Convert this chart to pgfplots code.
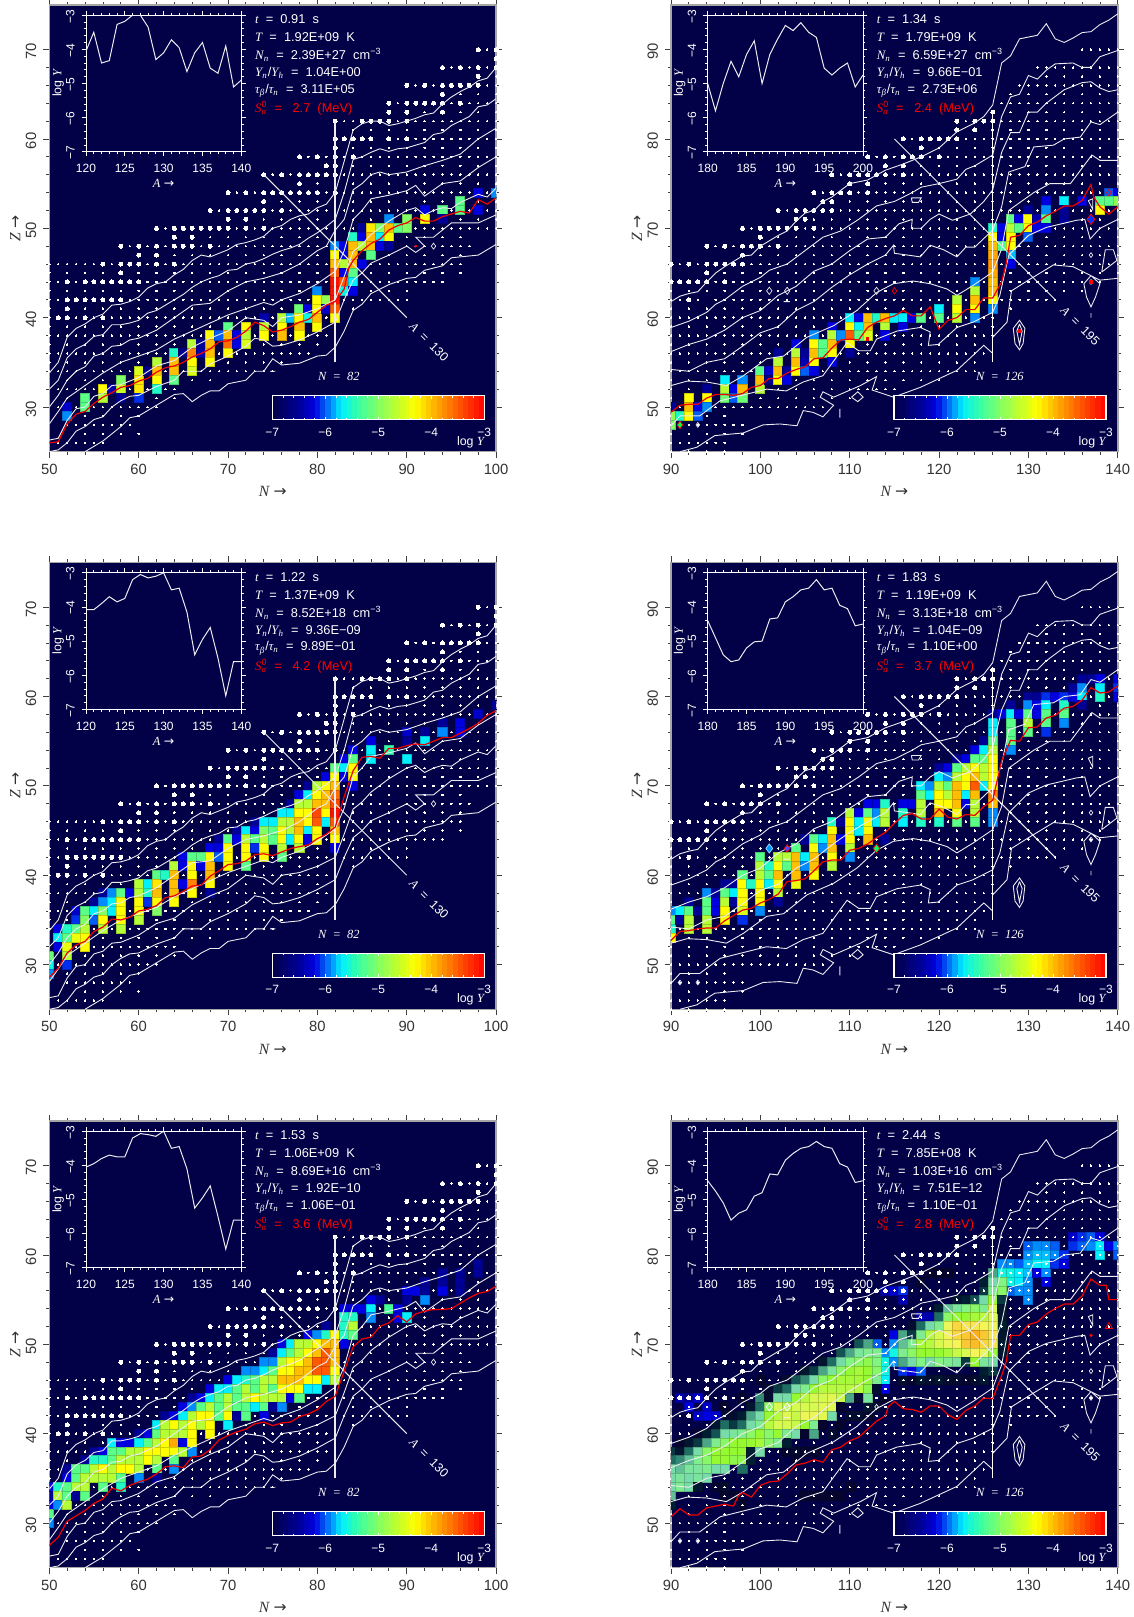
\documentclass[border=0pt]{standalone}
\usepackage{fontspec}
\usepackage{pgfplots}
\usepackage{pgfplotstable}
\pgfplotsset{compat=1.18}
\setmainfont{Liberation Sans}
\newfontfamily\serifrm{Liberation Serif}
\newfontfamily\symf{DejaVu Sans}
\newcommand\vv[1]{{\serifrm\itshape #1}}
\newcommand\arr{{\symf →}}
\definecolor{navy}{RGB}{2,0,70}
\definecolor{lin}{RGB}{235,235,240}
\tikzset{
ptx/.style={anchor=west,text=white,font=\fontsize{6.4}{7}\selectfont,inner sep=0pt},
lab/.style={text=white,font=\fontsize{6.2}{7}\selectfont,inner sep=0pt},
}
\pgfplotsset{
colormap={nuc}{rgb255(0cm)=(2,0,70) rgb255(5cm)=(0,0,150) rgb255(8cm)=(0,0,225) rgb255(11cm)=(0,140,255) rgb255(13cm)=(0,240,255) rgb255(16cm)=(50,255,170) rgb255(20cm)=(130,255,100) rgb255(24cm)=(200,255,40) rgb255(27cm)=(255,255,0) rgb255(30cm)=(255,190,0) rgb255(35cm)=(255,90,0) rgb255(40cm)=(255,0,0)},
colormap={nucs}{rgb255(0cm)=(2,0,70) rgb255(4cm)=(6,5,48) rgb255(7cm)=(0,30,50) rgb255(10cm)=(30,110,100) rgb255(14cm)=(120,220,170) rgb255(17cm)=(130,245,130) rgb255(20cm)=(150,250,50) rgb255(24cm)=(215,250,80) rgb255(27cm)=(245,245,90) rgb255(30cm)=(250,200,50) rgb255(33cm)=(250,165,20) rgb255(40cm)=(250,120,0)},
colormap name=nuc,
axbase/.style={scale only axis,width=223.4pt,height=223.4pt,anchor=south west,point meta min=-7,point meta max=-3,unbounded coords=jump},
main/.style={axbase,axis background/.style={fill=navy},
 axis line style={draw=gray!70,line width=.7pt},tick align=outside,minor tick num=4,major tick length=3pt,minor tick length=1.5pt,
 tick style={black!75,line width=.4pt},
 /pgf/number format/assume math mode=true,/pgf/number format/1000 sep={},
 tick label style={font=\fontsize{7.4}{8}\selectfont,text=black!80},
 yticklabel style={rotate=90,anchor=south,xshift=-1pt},xticklabel style={yshift=.5pt},
 xlabel={\vv{N} \arr},ylabel={\vv{Z} \arr},
 xlabel style={at={(axis description cs:.5,-.0895)},anchor=center,font=\fontsize{7.8}{8}\selectfont,text=black!80},
 ylabel style={at={(axis description cs:-.076,.5)},anchor=center,font=\fontsize{7.8}{8}\selectfont,text=black!80}},
mainL/.style={main,xmin=50,xmax=100,ymin=25,ymax=75,xtick={50,60,...,100},ytick={30,40,...,70}},
mainR/.style={main,xmin=90,xmax=140,ymin=45,ymax=95,xtick={90,100,...,140},ytick={50,60,...,90}},
ovL/.style={axbase,hide axis,xmin=50,xmax=100,ymin=25,ymax=75},
ovR/.style={axbase,hide axis,xmin=90,xmax=140,ymin=45,ymax=95},
cont/.style={color=lin,line width=.45pt,no markers},
red1/.style={color=red!95!black,line width=.6pt,no markers},
}
\pgfplotstableread{
50 33.8
51 35
52 37.8
53 38.8
54 39.3
55 40
56 40.4
57 41.4
58 41.5
59 41.8
60 42.3
61 43.3
62 43.8
63 44
64 44.8
65 45.4
66 46.4
67 47
68 46.8
69 47.2
70 47.6
71 48.2
72 48.4
73 48.7
74 49.1
75 50
76 50.3
77 51
78 51.4
79 51.6
80 52.3
81 52.7
82 54
83 57.5
84 61
85 61.7
86 62
87 62
88 61.5
89 61.7
90 62
91 62.3
92 62.7
93 62.9
94 63.9
95 64.7
96 65.3
97 65.8
98 66.5
99 66.8
100 68
nan nan
50 32
51 33
52 35.5
53 36.5
54 37
55 37.9
56 38.1
57 39.2
58 39.2
59 39.4
60 39.7
61 40.5
62 40.8
64 42
65 42.6
66 43.4
67 44
68 44.4
69 44.7
70 45.3
71 45.4
72 46
73 46.2
74 46.6
75 47.1
76 47.5
77 47.8
78 48.2
79 48.9
80 49.5
81 50.2
82 51
83 54
84 57.7
85 58
86 58.5
87 58.9
88 58.6
89 58.9
90 59
91 59.3
92 59.6
93 60.5
94 60.7
95 61.5
96 62
97 62.5
98 63.6
99 63.8
100 64.5
nan nan
50 30
51 31.3
52 33
53 34
54 34.5
55 35.7
56 36
57 36.8
58 36.9
59 37.5
60 37.7
62 38.6
64 40
66 41.4
68 41.6
70 43
72 44
74 44.4
76 45
78 46
80 47.5
81 48
82 49.8
83 51
84 54.3
85 55
86 56
87 56.3
88 56
90 56.3
92 57
94 57.6
96 58.3
98 60
100 61.2
nan nan
50 28.1
51 29.5
52 31
54 32.4
56 33.8
58 35
60 35.7
62 36.4
64 37.6
66 38.5
68 39.4
70 40.3
72 41
74 41.7
75 41.4
76 42
78 42.7
80 43.8
82 45.2
83 47.5
84 51
85 52
86 53.3
88 53.7
90 54.2
91 54.8
92 53.6
94 55
96 55.3
98 56.8
100 58
nan nan
50 26.3
51 26.5
52 28.5
53 29.8
54 30
55 31.2
56 31.5
57 32.4
58 32.5
60 33.3
62 34.6
64 35.2
66 36.7
68 37.7
70 38.5
72 40
74 39.7
75 39
76 40
78 40.3
80 41
82 42
83 44.6
84 47.4
85 48.2
86 49.3
88 50.8
90 52
91 52.3
92 51.5
93 52
94 52.3
95 52.2
96 52.9
98 53.8
99 53.5
100 54.5
nan nan
50 25
51 25.2
52 26
53 27.3
54 27.8
55 28.6
56 28.9
57 30
58 30.7
59 31.2
60 31.3
62 32.3
64 33
65 34
67 34
68 34.8
70 35.7
72 36.8
73 37.7
74 37.5
75 36.8
76 36.9
78 37.5
80 38.4
82 39.5
83 42
84 44.2
85 45
86 46.1
88 47
90 48
91 47.3
92 48
91 49
93 49
95 50.6
98 50.6
100 51.5
nan nan
54 25
56 26.2
58 27.8
59 28.8
60 29
62 30.2
64 31.4
65 31.5
66 30.6
67 31.3
68 31.8
69 31.8
70 32.6
72 33
73 34
74 34
75 35.4
76 34.7
78 34.9
80 35.7
81 35.8
82 36.7
83 38.5
84 40.8
85 41.5
86 42.7
88 43.7
90 44.4
91 44.5
92 45.3
94 45.8
95 46.7
98 47
100 48.2
nan nan
74.7 34
75.3 34
}\contL
\pgfplotstableread{
90 61.8
91 62.4
92 62.7
93 62.9
94 64
95 65
96 65.7
97 66.3
98 66.9
99 67
100 68
102 69.2
103 69.7
104 70.8
105 71.7
106 72
107 73
108 73.5
110 75
112 75.4
114 76.5
116 77.2
118 78
120 79
122 80.8
124 81.8
125 82.5
126 83.8
127 88.5
128 89.3
129 91.2
131 91.6
132 92.9
133 91.2
134 90.8
135 91.3
136 91.9
137 92
138 92.8
139 93.3
140 94
nan nan
90 58.9
92 59.6
94 60.6
95 61.5
96 62
98 63.5
100 64.5
101 65.3
103 66
105 67.5
107 69
109 69.7
111 71
113 72.5
115 73
117 74
118 74.6
120 75
122 75.5
123 76.6
124 77
126 78.2
127 82.5
128 84.7
129 85
130 87.1
131 86.7
132 87.7
133 88.4
135 88.5
136 88
137 88
138 89.2
140 89.9
nan nan
90 56.2
92 57
94 57.6
96 58.6
98 60
100 60.8
102 62.5
104 63.5
106 65.2
108 66
110 67.5
112 68.8
114 69
115.5 70.5
117 71
116.9 70
118 70
119 71
120 71.6
121.5 70.9
123.5 71.6
125 73
126 74.3
127 78.5
128 80.7
129 80.7
130 83
131 83
132 84
134 85.5
136 86.3
137 86.4
138 85.7
139 85.3
140 85.5
nan nan
90 54.2
92 54
94 55
96 55.4
98 56.8
100 58.3
102 59
104 60.8
106 61.8
108 63.4
110 64.8
112 66
114 67
114.9 68.1
115 67.2
116.5 67
117.9 66.8
119 68.1
120.5 67.6
122 66.8
123 67.9
124 67.9
126 69.8
127 72.4
127.8 76.3
129.6 76.9
130.6 79.1
132.8 79.3
134 80
135.8 80.2
137 81.9
138 81.6
140 83
nan nan
90 52.4
91.8 52.9
94 52.8
96.2 52.4
98.1 53.5
100.7 55.4
102.6 55.7
105.2 57.8
108.2 59.1
110.8 60.8
113 62.8
114.9 63.8
117.1 64.1
119 63.8
120.9 63.2
122 62.5
123.8 63.6
126 65.1
127 67.7
127.8 72
130.6 74
132.4 75
134.7 75
137.1 78.2
138 77.6
140 77.6
nan nan
90 47.9
91 49
93.2 49
95.5 50.7
100.7 52
102.9 51.8
104.8 52.8
107 53.5
109.7 57.2
111 56.3
112.3 56.3
113 57.6
115.3 58.5
117.9 58.9
119 58.4
118.8 56.9
119.9 57
122 58.9
123.8 59.5
126 60.6
126.8 62.5
127.8 67
130 69.2
132 70.1
135.4 70.9
136.3 71
136.9 68.8
138 70
140 71
nan nan
91 45
92.9 45.5
94.9 46.8
98.1 47.1
100.3 48
102.2 48.1
104.1 47.9
104.8 49.6
105.9 49.4
107 48.9
108.2 50.2
106.7 51.1
107 51.7
108.2 51.1
111.2 52.4
113 53.4
112.5 51.9
114.9 51.1
117.9 52.2
122 54.1
125 56.9
126 56
nan nan
126 57.8
127.6 59.5
128.1 63
130 64.2
132.8 65.9
135 65.7
138 64.2
140 64.4
nan nan
128.3 58.8
129 59.7
129.6 58.8
129.4 57.1
129 56.4
128.5 57.1
128.3 58.8
nan nan
129 59.3
129.3 58.5
129 57
128.7 58.5
129 59.3
nan nan
136.2 63.8
137 64.7
138 63.8
137.5 62.3
137 61.2
136.5 62.3
136.2 63.8
nan nan
137 60
137 60.5
nan nan
136.7 73.1
137.2 73.3
137.2 72.1
136.7 73.1
nan nan
116.9 73.4
118 73.4
117.7 72.9
117 72.9
116.9 73.4
nan nan
110.2 51.1
110.9 51.7
111.5 51.1
110.9 50.6
110.2 51.1
nan nan
108.9 49.8
108.9 48.8
nan nan
138.2 65.1
138.6 67.6
139.5 67.6
139.9 66.4
138.2 65.1
nan nan
102.6 61.8
103.3 61.8
}\contR
\pgfplotstableread{
98 70
100 70
100 69
94 68
96 68
98 68
100 68
98 67
90 66
92 66
94 66
95 66
97 66
96 66
98 66
94 65
88 64
90 64
91 64
92 64
93 64
94 64
96 64
88 63
90 63
94 63
82 62
85 62
86 62
87 62
88 62
90 62
82 60
83 60
84 60
85 60
86 60
88 60
90 60
82 59
78 58
80 58
82 58
84 58
81 57
82 57
74 56
76 56
78 56
79 56
80 56
81 56
82 56
78 55
70 54
72 54
74 54
75 54
76 54
77 54
78 54
79 54
80 54
82 54
74 53
68 52
70 52
71 52
72 52
73 52
74 52
76 52
70 51
72 51
62 50
64 50
65 50
66 50
67 50
68 50
69 50
70 50
72 50
74 50
64 49
66 49
58 48
60 48
62 48
64 48
65 48
66 48
68 48
60 47
62 47
56 46
58 46
59 46
60 46
62 46
64 46
58 45
52 44
54 44
55 44
56 44
57 44
58 44
59 44
60 44
52 42
53 42
54 42
55 42
56 42
57 42
58 42
52 41
51 40
52 40
54 40
56 40
}\bigL
\pgfplotstableread{
51 26
52 26
53 26
54 26
55 26
56 26
54 27
56 27
58 27
60 27
52 28
53 28
54 28
55 28
56 28
57 28
58 28
59 28
52 29
54 29
56 29
58 29
60 29
51 30
52 30
53 30
54 30
55 30
56 30
57 30
58 30
59 30
60 30
61 30
62 30
52 31
54 31
56 31
58 31
60 31
62 31
64 31
51 32
52 32
53 32
54 32
55 32
56 32
57 32
58 32
59 32
60 32
61 32
62 32
63 32
64 32
52 33
54 33
56 33
58 33
60 33
62 33
64 33
66 33
68 33
50 34
51 34
52 34
53 34
54 34
55 34
56 34
57 34
58 34
59 34
60 34
61 34
62 34
63 34
64 34
65 34
66 34
67 34
68 34
69 34
70 34
71 34
72 34
73 34
74 34
75 34
50 35
52 35
54 35
56 35
58 35
60 35
62 35
64 35
66 35
68 35
70 35
72 35
74 35
76 35
50 36
51 36
52 36
53 36
54 36
55 36
56 36
57 36
58 36
59 36
60 36
61 36
62 36
63 36
64 36
65 36
66 36
67 36
68 36
69 36
70 36
71 36
72 36
73 36
74 36
75 36
76 36
77 36
78 36
79 36
50 37
52 37
54 37
56 37
58 37
60 37
62 37
64 37
66 37
68 37
70 37
72 37
74 37
76 37
78 37
80 37
50 38
51 38
52 38
53 38
54 38
55 38
56 38
57 38
58 38
59 38
60 38
61 38
62 38
63 38
64 38
65 38
66 38
67 38
68 38
69 38
70 38
71 38
72 38
73 38
74 38
75 38
76 38
77 38
78 38
79 38
80 38
81 38
50 39
52 39
54 39
56 39
58 39
60 39
62 39
64 39
66 39
68 39
70 39
72 39
74 39
76 39
78 39
80 39
82 39
50 40
53 40
55 40
57 40
58 40
59 40
60 40
61 40
62 40
63 40
64 40
65 40
66 40
67 40
68 40
69 40
70 40
71 40
72 40
73 40
74 40
75 40
76 40
77 40
78 40
79 40
80 40
81 40
82 40
50 41
54 41
56 41
58 41
60 41
62 41
64 41
66 41
68 41
70 41
72 41
74 41
76 41
78 41
80 41
82 41
84 41
50 42
51 42
59 42
60 42
61 42
62 42
63 42
64 42
65 42
66 42
67 42
68 42
69 42
70 42
71 42
72 42
73 42
74 42
75 42
76 42
77 42
78 42
79 42
80 42
81 42
82 42
83 42
84 42
85 42
86 42
87 42
88 42
89 42
90 42
50 43
52 43
54 43
56 43
58 43
60 43
62 43
64 43
66 43
68 43
70 43
72 43
74 43
76 43
78 43
80 43
82 43
84 43
86 43
88 43
90 43
50 44
51 44
53 44
61 44
62 44
63 44
64 44
65 44
66 44
67 44
68 44
69 44
70 44
71 44
72 44
73 44
74 44
75 44
76 44
77 44
78 44
79 44
80 44
81 44
82 44
83 44
84 44
85 44
86 44
87 44
88 44
89 44
90 44
91 44
92 44
93 44
94 44
50 45
52 45
54 45
56 45
60 45
62 45
64 45
66 45
68 45
70 45
72 45
74 45
76 45
78 45
80 45
82 45
84 45
86 45
88 45
90 45
92 45
94 45
96 45
50 46
51 46
52 46
53 46
54 46
55 46
57 46
61 46
63 46
65 46
66 46
67 46
68 46
69 46
70 46
71 46
72 46
73 46
74 46
75 46
76 46
77 46
78 46
79 46
80 46
81 46
82 46
83 46
84 46
85 46
86 46
87 46
88 46
89 46
90 46
91 46
92 46
93 46
94 46
95 46
96 46
64 47
66 47
68 47
70 47
72 47
74 47
76 47
78 47
80 47
82 47
84 47
86 47
88 47
90 47
92 47
94 47
96 47
59 48
61 48
63 48
67 48
69 48
70 48
71 48
72 48
73 48
74 48
75 48
76 48
77 48
78 48
79 48
80 48
81 48
82 48
83 48
84 48
85 48
86 48
87 48
88 48
90 48
91 48
92 48
94 48
95 48
96 48
97 48
68 49
70 49
72 49
74 49
76 49
78 49
80 49
82 49
84 49
86 49
88 49
90 49
92 49
94 49
96 49
63 50
71 50
73 50
75 50
76 50
77 50
78 50
79 50
80 50
81 50
82 50
83 50
84 50
85 50
86 50
87 50
88 50
89 50
90 50
91 50
92 50
93 50
94 50
95 50
96 50
97 50
98 50
99 50
100 50
74 51
76 51
78 51
80 51
82 51
84 51
86 51
88 51
90 51
92 51
94 51
96 51
98 51
100 51
69 52
75 52
77 52
78 52
79 52
80 52
81 52
82 52
83 52
84 52
85 52
86 52
87 52
88 52
89 52
90 52
91 52
92 52
93 52
94 52
95 52
96 52
97 52
98 52
99 52
100 52
76 53
78 53
80 53
82 53
84 53
86 53
88 53
90 53
92 53
94 53
96 53
98 53
100 53
71 54
73 54
81 54
83 54
84 54
85 54
86 54
87 54
88 54
89 54
90 54
91 54
92 54
93 54
94 54
95 54
96 54
97 54
98 54
99 54
100 54
80 55
82 55
84 55
86 55
88 55
90 55
92 55
94 55
96 55
98 55
100 55
75 56
77 56
83 56
84 56
85 56
86 56
87 56
88 56
89 56
90 56
91 56
92 56
93 56
94 56
95 56
96 56
97 56
98 56
99 56
100 56
84 57
86 57
88 57
90 57
92 57
94 57
96 57
98 57
100 57
79 58
81 58
83 58
85 58
86 58
87 58
88 58
89 58
90 58
91 58
92 58
93 58
94 58
95 58
96 58
97 58
98 58
99 58
100 58
84 59
86 59
88 59
90 59
92 59
94 59
96 59
98 59
100 59
89 60
91 60
92 60
93 60
94 60
95 60
96 60
97 60
98 60
99 60
100 60
84 61
86 61
88 61
90 61
92 61
94 61
96 61
98 61
100 61
83 62
84 62
89 62
91 62
92 62
93 62
94 62
95 62
96 62
97 62
98 62
99 62
100 62
92 63
96 63
98 63
100 63
89 64
95 64
97 64
98 64
99 64
100 64
96 65
98 65
100 65
91 66
93 66
99 66
100 66
100 67
95 68
97 68
99 68
99 70
}\smallL
\pgfplotstableread{
126 83
122 82
124 82
125 82
126 82
122 81
124 81
116 80
118 80
119 80
120 80
121 80
122 80
118 79
112 78
114 78
116 78
117 78
118 78
120 78
114 77
116 77
108 76
110 76
111 76
112 76
113 76
114 76
116 76
110 75
112 75
106 74
108 74
109 74
110 74
112 74
107 73
108 73
102 72
104 72
105 72
106 72
107 72
108 72
104 71
105 71
98 70
100 70
101 70
102 70
103 70
104 70
106 70
100 69
94 68
96 68
98 68
99 68
100 68
102 68
98 67
90 66
92 66
94 66
95 66
96 66
97 66
98 66
94 65
90 64
91 64
92 64
93 64
94 64
96 64
92 62
}\bigR
\pgfplotstableread{
90 45
92 45
94 45
96 45
90 46
91 46
92 46
93 46
94 46
95 46
96 46
90 47
92 47
94 47
96 47
98 47
90 48
91 48
92 48
93 48
94 48
95 48
96 48
97 48
98 48
90 49
92 49
94 49
96 49
90 50
91 50
92 50
93 50
94 50
95 50
96 50
97 50
98 50
99 50
100 50
101 50
102 50
103 50
104 50
105 50
106 50
107 50
90 51
92 51
94 51
96 51
98 51
100 51
102 51
104 51
106 51
108 51
110 51
90 52
92 52
94 52
96 52
98 52
100 52
102 52
104 52
106 52
108 52
110 52
111 52
112 52
113 52
114 52
115 52
90 53
92 53
94 53
96 53
98 53
100 53
102 53
104 53
106 53
108 53
110 53
112 53
114 53
116 53
118 53
120 53
90 54
91 54
92 54
93 54
94 54
95 54
96 54
97 54
98 54
99 54
100 54
101 54
102 54
103 54
104 54
105 54
106 54
107 54
108 54
109 54
110 54
111 54
112 54
113 54
114 54
115 54
116 54
117 54
118 54
119 54
120 54
121 54
122 54
123 54
124 54
90 55
92 55
94 55
96 55
98 55
100 55
102 55
104 55
106 55
108 55
110 55
112 55
114 55
116 55
118 55
120 55
122 55
124 55
90 56
91 56
92 56
93 56
94 56
95 56
96 56
97 56
98 56
99 56
100 56
101 56
102 56
103 56
104 56
105 56
106 56
107 56
108 56
109 56
110 56
111 56
112 56
113 56
114 56
115 56
116 56
117 56
118 56
119 56
120 56
121 56
122 56
123 56
124 56
125 56
90 57
92 57
94 57
96 57
98 57
100 57
102 57
104 57
106 57
108 57
110 57
112 57
114 57
116 57
118 57
120 57
122 57
124 57
90 58
91 58
92 58
93 58
94 58
95 58
96 58
97 58
98 58
99 58
100 58
101 58
102 58
103 58
104 58
105 58
106 58
107 58
108 58
109 58
110 58
111 58
112 58
113 58
114 58
115 58
116 58
117 58
118 58
119 58
120 58
121 58
122 58
123 58
124 58
125 58
126 58
90 59
92 59
94 59
96 59
98 59
100 59
102 59
104 59
106 59
108 59
110 59
112 59
114 59
116 59
118 59
120 59
122 59
124 59
126 59
90 60
91 60
92 60
93 60
94 60
95 60
96 60
97 60
98 60
99 60
100 60
101 60
102 60
103 60
104 60
105 60
106 60
107 60
108 60
109 60
110 60
111 60
112 60
113 60
114 60
115 60
116 60
117 60
118 60
119 60
120 60
121 60
122 60
123 60
124 60
125 60
126 60
90 61
92 61
94 61
96 61
98 61
100 61
102 61
104 61
106 61
108 61
110 61
112 61
114 61
116 61
118 61
120 61
122 61
124 61
126 61
128 61
90 62
91 62
93 62
95 62
96 62
97 62
98 62
99 62
100 62
101 62
102 62
103 62
104 62
105 62
106 62
107 62
108 62
109 62
110 62
111 62
112 62
113 62
114 62
115 62
116 62
117 62
118 62
119 62
120 62
121 62
122 62
123 62
124 62
125 62
126 62
127 62
128 62
129 62
130 62
131 62
132 62
133 62
90 63
92 63
94 63
96 63
98 63
100 63
102 63
104 63
106 63
108 63
110 63
112 63
114 63
116 63
118 63
120 63
122 63
124 63
126 63
128 63
130 63
132 63
134 63
136 63
95 64
97 64
98 64
99 64
100 64
101 64
102 64
103 64
104 64
105 64
106 64
107 64
108 64
109 64
110 64
111 64
112 64
113 64
114 64
115 64
116 64
117 64
118 64
119 64
120 64
121 64
122 64
123 64
124 64
125 64
126 64
127 64
128 64
129 64
130 64
131 64
132 64
133 64
134 64
135 64
136 64
137 64
138 64
96 65
98 65
100 65
102 65
104 65
106 65
108 65
110 65
112 65
114 65
116 65
118 65
120 65
122 65
124 65
126 65
128 65
130 65
132 65
134 65
136 65
138 65
140 65
91 66
93 66
99 66
100 66
101 66
102 66
103 66
104 66
105 66
106 66
107 66
108 66
109 66
110 66
111 66
112 66
113 66
114 66
115 66
116 66
117 66
118 66
119 66
120 66
121 66
122 66
123 66
124 66
125 66
126 66
127 66
128 66
129 66
130 66
131 66
132 66
133 66
134 66
135 66
136 66
137 66
138 66
139 66
140 66
100 67
102 67
104 67
106 67
108 67
110 67
112 67
114 67
116 67
118 67
120 67
122 67
124 67
126 67
128 67
130 67
132 67
134 67
136 67
138 67
140 67
95 68
97 68
101 68
103 68
104 68
105 68
106 68
107 68
108 68
109 68
110 68
111 68
112 68
113 68
114 68
115 68
116 68
117 68
118 68
119 68
120 68
121 68
122 68
123 68
124 68
125 68
126 68
127 68
128 68
129 68
130 68
131 68
132 68
133 68
134 68
135 68
136 68
137 68
138 68
139 68
140 68
102 69
104 69
106 69
108 69
110 69
112 69
114 69
116 69
118 69
120 69
122 69
124 69
126 69
128 69
130 69
132 69
134 69
136 69
138 69
140 69
99 70
105 70
107 70
108 70
109 70
110 70
111 70
112 70
113 70
114 70
115 70
116 70
117 70
118 70
119 70
120 70
121 70
122 70
123 70
124 70
125 70
126 70
127 70
128 70
129 70
130 70
131 70
132 70
133 70
134 70
135 70
136 70
137 70
138 70
139 70
140 70
106 71
108 71
110 71
112 71
114 71
116 71
118 71
120 71
122 71
124 71
126 71
128 71
130 71
132 71
134 71
136 71
138 71
140 71
103 72
109 72
110 72
111 72
112 72
113 72
114 72
115 72
116 72
117 72
118 72
119 72
120 72
121 72
122 72
123 72
124 72
125 72
126 72
127 72
128 72
129 72
130 72
131 72
132 72
133 72
134 72
135 72
136 72
137 72
138 72
139 72
140 72
110 73
112 73
114 73
116 73
118 73
120 73
122 73
124 73
126 73
128 73
130 73
132 73
134 73
136 73
138 73
140 73
107 74
111 74
113 74
114 74
115 74
116 74
117 74
118 74
119 74
120 74
121 74
122 74
123 74
124 74
125 74
126 74
127 74
128 74
129 74
130 74
131 74
132 74
133 74
134 74
135 74
136 74
137 74
138 74
139 74
140 74
114 75
116 75
118 75
120 75
122 75
124 75
126 75
128 75
130 75
132 75
134 75
136 75
138 75
140 75
109 76
115 76
117 76
118 76
119 76
120 76
121 76
122 76
123 76
124 76
125 76
126 76
127 76
128 76
129 76
130 76
131 76
132 76
133 76
134 76
135 76
136 76
137 76
138 76
139 76
140 76
118 77
120 77
122 77
124 77
126 77
128 77
130 77
132 77
134 77
136 77
138 77
140 77
113 78
115 78
119 78
121 78
122 78
123 78
124 78
125 78
126 78
127 78
128 78
129 78
130 78
131 78
132 78
133 78
134 78
135 78
136 78
137 78
138 78
139 78
140 78
120 79
122 79
124 79
126 79
128 79
130 79
132 79
134 79
136 79
138 79
140 79
117 80
123 80
124 80
125 80
126 80
127 80
128 80
129 80
130 80
131 80
132 80
133 80
134 80
135 80
136 80
137 80
138 80
139 80
140 80
126 81
128 81
130 81
132 81
134 81
136 81
138 81
140 81
123 82
127 82
128 82
129 82
130 82
131 82
132 82
133 82
134 82
135 82
136 82
137 82
138 82
139 82
140 82
126 83
128 83
130 83
132 83
134 83
136 83
138 83
140 83
127 84
128 84
129 84
130 84
131 84
132 84
133 84
134 84
135 84
136 84
137 84
138 84
139 84
140 84
128 85
130 85
132 85
134 85
136 85
138 85
140 85
129 86
130 86
131 86
132 86
133 86
134 86
135 86
136 86
137 86
138 86
139 86
140 86
132 87
134 87
136 87
138 87
140 87
131 88
132 88
133 88
134 88
135 88
136 88
137 88
138 88
139 88
140 88
136 90
137 90
138 90
139 90
140 90
}\smallR
\pgfplotstableread{
52 30 -6.3
52 29 -5.9
54 31 -5.2
54 30 -5.2
56 32 -4.3
56 31 -4.7
57 32 -6.4
58 33 -5
58 32 -4.6
58 31 -6.5
60 34 -4.5
60 33 -4.2
60 32 -4.2
60 31 -6.1
61 34 -6.6
62 35 -4.7
62 34 -4
62 33 -4.3
62 32 -5.5
64 36 -5.5
64 35 -4
64 34 -4
64 33 -5.2
65 36 -6.6
66 37 -4.7
66 36 -3.7
66 35 -4.3
66 34 -4.5
67 37 -6.5
67 36 -6.4
68 38 -4.3
68 37 -4
68 36 -4
68 35 -4.3
69 38 -6
70 39 -5.2
70 38 -4
70 37 -3.6
70 36 -4.3
71 38 -6.2
71 37 -6.2
72 39 -4.3
72 38 -4.7
72 37 -4.5
74 40 -6.4
74 39 -4.7
74 38 -4.3
76 40 -4.7
76 39 -4.3
76 38 -4
77 40 -5.8
78 41 -5.1
78 40 -4.3
78 39 -4
78 38 -4.3
79 41 -6.2
79 40 -5.6
80 43 -5.9
80 42 -4.3
80 41 -4.3
80 40 -4
80 39 -4.3
81 42 -4.9
81 41 -6.3
82 48 -5.9
82 47 -4.3
82 46 -4
82 45 -3.5
82 44 -3.1
82 43 -3.1
82 42 -3.1
82 41 -3.5
82 40 -4.3
83 48 -6.2
83 47 -6.2
83 46 -4.7
83 45 -6.2
83 44 -3.5
83 43 -5.6
84 49 -5.5
84 48 -4
84 47 -4
84 46 -4
84 45 -5.2
84 44 -5.7
84 43 -6.2
85 50 -6.5
85 49 -6.2
85 48 -4.7
85 46 -6.2
86 50 -4.2
86 49 -4
86 48 -4
86 47 -5.2
87 50 -5
87 49 -5.7
87 48 -6.2
88 51 -5.9
88 50 -4
88 49 -4.3
88 48 -6.5
89 50 -5.2
90 51 -5
90 50 -5
92 52 -6.2
92 51 -4.3
94 52 -5.2
94 51 -6.5
96 53 -5.2
96 52 -5.2
98 54 -6.2
98 52 -6.2
100 54 -5.9
}\cellA
\pgfplotstableread{
90 50 -6.5
90 49 -4.9
90 48 -5
91 49 -5.5
92 51 -4.3
92 50 -4
92 49 -4.3
93 50 -6.2
93 49 -6
94 52 -6.5
94 51 -4.3
94 50 -5.9
96 53 -5.7
96 52 -4.7
96 51 -5.1
97 52 -6.2
97 51 -6
98 53 -5.9
98 52 -4
98 51 -5.1
100 54 -5.2
100 53 -4
100 52 -4.7
101 54 -6.3
101 53 -6.6
102 56 -6.5
102 55 -4.7
102 54 -4
102 53 -4.3
103 54 -6.5
103 53 -6.2
104 57 -6.2
104 56 -4.7
104 55 -4
104 54 -4.3
105 56 -6.5
105 55 -6.4
105 54 -6
106 58 -5.9
106 57 -4.3
106 56 -4
106 55 -4.3
106 54 -6.2
107 57 -5.2
107 56 -5.2
108 59 -6.2
108 58 -4.7
108 57 -4
108 56 -4.3
108 55 -6.2
109 58 -5.9
110 60 -5.7
110 59 -4.3
110 58 -3.5
110 57 -4.3
110 56 -6.5
111 60 -6.2
111 59 -5.7
111 58 -5.2
112 60 -4
112 59 -4
112 58 -4.5
113 60 -5.5
114 60 -4
114 59 -4.7
114 58 -6.2
115 60 -5.7
116 60 -5.7
116 59 -6.2
117 60 -6.2
118 60 -5.2
120 61 -5.7
120 60 -5.2
122 62 -4.7
122 61 -4.3
122 60 -4.7
124 64 -5.9
124 63 -4.7
124 62 -4
124 61 -4.3
124 60 -5.9
126 70 -5.5
126 69 -4.3
126 68 -4
126 67 -3.9
126 66 -3.8
126 65 -3.9
126 64 -4
126 63 -4
126 62 -4.3
126 61 -5.9
127 70 -6.2
127 69 -6.2
127 68 -5.3
128 71 -5.2
128 70 -4.7
128 69 -4.3
128 68 -4.3
128 67 -5.8
128 66 -6.2
129 71 -6.2
129 70 -5.2
130 72 -6.5
130 71 -4.3
130 70 -4.3
130 69 -6
131 71 -6.4
131 70 -6.2
132 73 -6.2
132 72 -5.9
132 71 -5.2
132 70 -6.2
134 73 -5.7
134 72 -6.5
134 71 -6.5
136 73 -6.2
138 73 -5.2
138 72 -4.3
139 74 -6
139 73 -5.2
140 74 -6.2
140 73 -4.9
}\cellB
\pgfplotstableread{
50 31 -5.1
50 30 -5.6
50 29 -5.9
51 34 -6.2
51 33 -5.7
51 32 -6.2
52 34 -5.5
52 33 -5.2
52 32 -4.4
52 31 -4.7
52 30 -6.1
53 36 -6.3
53 35 -6.1
53 34 -5.2
53 33 -4.4
54 36 -5.2
54 35 -5
54 34 -4.7
54 33 -4.3
54 32 -4.3
55 37 -6.5
55 36 -5.7
55 35 -6
56 38 -6.5
56 37 -5.9
56 36 -5
56 35 -4.3
56 34 -4.7
57 38 -5.9
57 37 -5.7
57 36 -5.7
58 38 -5.2
58 37 -4.3
58 36 -4.3
58 35 -4.3
58 34 -4.7
59 38 -6.2
60 39 -4.7
60 38 -4.7
60 37 -4.3
60 36 -4.3
60 35 -4.7
61 39 -5.7
61 38 -5.5
61 37 -6.1
62 40 -5.2
62 39 -4.2
62 38 -4
62 37 -4.3
62 36 -5
63 40 -5.5
64 41 -4.7
64 40 -4
64 39 -4
64 38 -4
64 37 -4.3
65 42 -6.2
65 41 -6.2
65 39 -6.2
66 42 -5.2
66 41 -4.3
66 40 -4.3
66 39 -3.7
66 38 -4.3
67 42 -5.2
67 41 -6.2
68 43 -6.2
68 42 -4.3
68 41 -4
68 40 -4
68 39 -4.3
68 38 -6.5
69 44 -6.5
69 43 -6.2
69 42 -6
70 44 -5.2
70 43 -4.3
70 42 -4.3
70 41 -4.3
71 45 -6.5
71 44 -6.2
72 45 -5.7
72 44 -4.7
72 43 -4.3
72 42 -4.3
72 41 -5.2
73 46 -6.5
73 45 -6.2
73 44 -5.2
73 43 -6.1
74 46 -5.7
74 45 -5
74 44 -4.7
74 43 -4.3
74 42 -4.3
75 46 -5.7
75 45 -5.2
75 44 -5.2
76 47 -5.7
76 46 -4.7
76 45 -4.3
76 44 -4.3
76 43 -4.7
76 42 -5.2
77 48 -6.5
77 47 -5.7
77 46 -4.7
77 45 -4.7
77 44 -5.7
78 49 -6.2
78 48 -4.7
78 47 -4.3
78 46 -4
78 45 -4
78 44 -4.3
78 43 -4.7
79 50 -6.5
79 49 -5.7
79 48 -4.7
79 47 -4.3
79 46 -4.3
79 45 -5.7
79 44 -6.2
80 50 -4.7
80 49 -4.3
80 48 -4
80 47 -3.4
80 46 -3.5
80 45 -4.3
80 44 -4.3
81 51 -6.2
81 50 -4.3
81 49 -4
81 48 -4
81 47 -4.3
81 46 -5.7
82 52 -5.2
82 51 -4.3
82 50 -4
82 49 -3.6
82 48 -3.4
82 47 -3.1
82 46 -3.5
82 45 -4
82 44 -4.3
82 43 -6.2
83 53 -6.2
83 52 -5.7
83 51 -6.2
84 54 -6.2
84 53 -5.2
84 52 -4.3
84 51 -4.3
84 50 -6.2
86 55 -6.2
86 54 -5.7
86 53 -5.7
88 54 -5.4
90 56 -6.3
90 55 -6.5
90 53 -5.7
92 56 -6.5
92 55 -5.7
94 57 -6.5
94 56 -5.9
96 57 -6.2
96 56 -6.2
98 58 -6.3
100 59 -6.5
}\cellC
\pgfplotstableread{
90 56 -5.9
90 55 -5.2
90 54 -5.5
90 53 -4.3
91 56 -5.7
91 55 -6.5
92 57 -6.5
92 56 -5.2
92 55 -4.7
92 54 -4.7
93 56 -6.5
94 58 -5.9
94 57 -5.2
94 56 -5.2
94 55 -4.7
94 54 -4.7
95 58 -6.5
95 57 -6.2
95 56 -6.2
96 59 -6.5
96 58 -5.2
96 57 -4.7
96 56 -4.3
96 55 -4.3
97 59 -6.5
97 58 -5.7
97 57 -6.5
98 60 -5.2
98 59 -4.3
98 58 -4.3
98 57 -4.3
98 56 -4.5
98 55 -6.1
99 59 -5.5
100 62 -5.2
100 61 -4.7
100 60 -4.7
100 59 -4.3
100 58 -4.3
100 57 -4.3
100 56 -5.9
101 61 -5.5
101 60 -5.2
101 59 -5.7
102 62 -4.7
102 61 -4.3
102 60 -4
102 59 -4.3
102 58 -4.7
102 57 -6.5
103 62 -4.7
103 61 -5.2
104 63 -5.2
104 62 -4
104 61 -4
104 60 -4
104 59 -4.4
105 64 -6.5
105 62 -5.7
105 61 -5.9
106 64 -5.2
106 63 -4.3
106 62 -4
106 61 -4
106 60 -4.3
107 64 -5.7
107 63 -5.9
108 66 -5.5
108 65 -4.3
108 64 -4
108 63 -4
108 62 -4.3
108 61 -4.7
109 66 -6.5
109 64 -6.2
110 67 -4.7
110 66 -4.3
110 65 -4.3
110 64 -4.3
110 63 -4.7
110 62 -5.9
111 67 -6.2
111 66 -5.7
111 65 -5.7
112 68 -6.2
112 67 -5.2
112 66 -4.3
112 65 -4.3
112 64 -4
113 68 -6.2
113 67 -5.9
113 66 -5.7
114 68 -5.5
114 67 -4.7
114 66 -4.7
114 64 -6.5
116 68 -6.2
116 67 -5.5
116 66 -5.7
117 68 -6.2
118 70 -5.7
118 69 -5.2
118 68 -4.7
118 67 -4.7
118 66 -5.5
119 70 -5.9
119 69 -5.7
120 72 -6.5
120 71 -5.7
120 70 -4.7
120 69 -4.3
120 68 -4.3
120 67 -4
120 66 -5.5
121 72 -6.2
121 71 -5.9
121 70 -5.2
121 69 -4.7
121 68 -4.3
122 73 -6.5
122 72 -5.2
122 71 -4.7
122 70 -4
122 69 -4
122 68 -4
122 67 -4.3
122 66 -5.2
123 73 -6.2
123 72 -4.7
123 71 -4.3
123 70 -4.3
123 69 -5.7
123 68 -6.2
124 74 -6.2
124 73 -5.2
124 72 -4.3
124 71 -4
124 70 -3.5
124 69 -4
124 68 -4.7
124 67 -4.7
124 66 -5.2
125 75 -6.5
125 74 -5.7
125 73 -5.2
125 72 -4.7
125 71 -4.7
125 70 -5.7
126 78 -6.5
126 77 -5.7
126 76 -5.7
126 75 -5.2
126 74 -4.7
126 73 -4.3
126 72 -4.3
126 71 -4.3
126 70 -4.3
126 69 -3.7
126 68 -4
126 67 -5.9
126 66 -5.9
127 78 -6.2
128 79 -6.5
128 78 -5.7
128 77 -5.2
128 76 -5.2
128 75 -5.2
128 74 -5.9
129 78 -6.2
130 80 -6.5
130 79 -5.9
130 78 -5.2
130 77 -4.7
130 76 -5.2
131 80 -6.5
131 79 -6.2
131 78 -6.2
132 80 -6.1
132 79 -5.7
132 78 -5.2
132 77 -5.2
132 76 -6.1
133 80 -6.2
134 80 -6.1
134 79 -5.5
134 78 -5.2
134 77 -5.9
135 81 -6.5
135 80 -6.2
136 82 -6.5
136 81 -5.9
136 80 -5.7
136 79 -6.5
137 82 -6.5
138 82 -6.2
138 81 -5.7
138 80 -5.5
140 82 -6.2
140 81 -6.1
140 80 -6.2
}\cellD
\pgfplotstableread{
50 34 -6.2
50 33 -6.5
50 32 -6.2
50 31 -5.2
50 30 -5.9
51 34 -5.5
51 33 -4.7
51 32 -5.9
52 36 -6.5
52 35 -6.2
52 34 -5.2
52 33 -5.2
52 32 -4.7
53 36 -5.2
53 35 -5.2
53 34 -4.7
53 33 -6.5
54 37 -6.5
54 36 -5.2
54 35 -4.7
54 34 -4.7
54 33 -5.2
55 38 -6.5
55 37 -5.5
55 36 -4.7
55 35 -4.7
56 38 -6.2
56 37 -5.5
56 36 -4.3
56 35 -4.7
56 34 -5.2
57 39 -5.7
57 38 -5.2
57 37 -5.2
57 36 -4.7
57 35 -4.7
58 39 -6.2
58 38 -5.2
58 37 -4.7
58 36 -4.3
58 35 -5.2
58 34 -5.5
59 39 -6.2
59 38 -4.7
59 37 -4.7
59 36 -4.3
60 40 -6.5
60 39 -5.7
60 38 -4.7
60 37 -4.7
60 36 -4.7
60 35 -5.9
61 40 -6.2
61 39 -5.2
61 38 -4.3
61 37 -4.3
62 41 -5.7
62 40 -5.2
62 39 -4.7
62 38 -4.3
62 37 -4.7
62 36 -5.2
62 35 -6.5
63 42 -6.5
63 41 -4.7
63 40 -4.7
63 39 -4.3
63 38 -4.3
64 42 -6.2
64 41 -4.3
64 40 -4.7
64 39 -3.9
64 38 -4.3
64 37 -5.2
64 36 -5.9
65 43 -6.2
65 42 -5.7
65 41 -4.7
65 40 -4.7
65 39 -6.2
65 38 -4.7
66 44 -6.5
66 43 -5.9
66 42 -4.7
66 41 -4.3
66 40 -4.3
66 39 -4.3
66 38 -5.9
67 44 -6.2
67 43 -5.2
67 42 -4.3
67 41 -4.7
68 45 -6.2
68 44 -5.7
68 43 -4.7
68 42 -4.3
68 41 -4.3
68 40 -4.3
69 45 -5.7
69 44 -5.2
69 43 -5.2
69 42 -5.2
70 46 -6.2
70 45 -5.7
70 44 -4.7
70 43 -4.7
70 42 -4.3
70 41 -5.7
71 46 -5.7
71 45 -5.2
71 44 -5.2
71 43 -5.2
71 42 -6.5
72 47 -5.9
72 46 -5.5
72 45 -4.7
72 44 -4.7
72 43 -5.2
72 42 -5.2
73 47 -5.9
73 46 -5.2
73 45 -5.2
73 44 -4.3
73 43 -5.7
74 48 -5.9
74 47 -5.7
74 46 -4.7
74 45 -4.7
74 44 -4.7
74 43 -5.2
74 42 -6.2
75 49 -6.5
75 48 -5.9
75 47 -5.2
75 46 -4.7
75 45 -5.2
75 44 -4.7
75 43 -6.5
76 50 -6.2
76 49 -5.7
76 48 -4.7
76 47 -4.3
76 46 -4
76 45 -4.3
76 44 -4.7
76 43 -5.9
77 50 -5.7
77 49 -5.2
77 48 -4.3
77 47 -4.3
77 46 -4
77 45 -4.3
77 44 -6.2
78 50 -4.7
78 49 -4.7
78 48 -4.3
78 47 -4
78 46 -4
78 45 -4.3
78 44 -5.2
79 51 -6.2
79 50 -4.7
79 49 -4.3
79 48 -4
79 47 -4
79 46 -4.3
79 45 -5.7
80 51 -5.9
80 50 -4.3
80 49 -4
80 48 -3.5
80 47 -3.5
80 46 -4.3
80 45 -5.7
81 52 -6.5
81 51 -5.5
81 50 -4
81 49 -3.5
81 48 -3.5
81 47 -3.5
81 46 -5.7
82 51 -4.3
82 50 -4
82 49 -4
82 48 -4
82 47 -4.3
82 46 -4.7
83 54 -6.2
83 53 -5.5
83 52 -5.5
83 51 -5.5
83 50 -6.2
84 54 -6.2
84 53 -5.5
84 52 -4.7
84 51 -5.2
85 54 -6.2
86 55 -6.2
86 54 -5.7
86 53 -5.9
87 55 -6.5
88 54 -5.3
89 54 -6.2
89 53 -6.2
90 56 -6.2
90 55 -6.5
90 53 -5.7
91 56 -6.2
92 57 -6.5
92 56 -6.5
92 55 -5.9
94 58 -6.5
94 57 -6.5
94 56 -6.2
96 58 -6.5
96 57 -6.5
96 56 -6.5
98 59 -6.5
98 58 -6.5
}\cellE
\pgfplotstableread{
90 58 -6.2
90 57 -6
90 56 -5.6
90 55 -5.6
90 54 -5.6
90 53 -5.7
90 52 -6.3
91 59 -6.6
91 58 -6.4
91 57 -5.9
91 56 -5.7
91 55 -5.5
91 54 -5.4
92 59 -6.4
92 58 -6
92 57 -5.7
92 56 -5.5
92 55 -5.6
92 54 -5.6
93 60 -6.6
93 59 -6.2
93 58 -5.6
93 57 -5.4
93 56 -5.5
93 55 -5.5
93 54 -6.4
94 60 -6.3
94 59 -5.8
94 58 -5.2
94 57 -5.2
94 56 -5.4
94 55 -5.6
95 61 -6.4
95 60 -6.1
95 59 -5.4
95 58 -5
95 57 -5
95 56 -5.6
96 61 -6
96 60 -5.6
96 59 -5.2
96 58 -5
96 57 -5
96 56 -5.6
97 62 -6.5
97 61 -6.2
97 60 -5.5
97 59 -5
97 58 -5
97 57 -5.1
98 62 -6.3
98 61 -6
98 60 -5.4
98 59 -5
98 58 -5
98 57 -5.1
98 56 -6
99 63 -6.4
99 62 -5.8
99 61 -5.6
99 60 -5.2
99 59 -5
99 58 -6.3
99 57 -6.3
100 64 -5.9
100 63 -6
100 62 -5.6
100 61 -5.4
100 60 -5
100 59 -4.9
100 58 -5.6
101 65 -6.5
101 64 -6.5
101 63 -5.2
101 62 -5
101 61 -4.8
101 60 -5.2
101 59 -5.2
102 65 -6.2
102 64 -5.6
102 63 -4.6
102 62 -4.8
102 61 -4.6
102 60 -5
102 59 -5.4
103 66 -6.5
103 65 -6
103 64 -5.6
103 63 -4.8
103 62 -4.5
103 61 -4.6
103 60 -5.4
103 59 -6.3
104 66 -6.1
104 65 -5.6
104 64 -5
104 63 -4.6
104 62 -4.7
104 61 -4.7
104 60 -5.6
105 67 -6.4
105 66 -5.9
105 65 -5.4
105 64 -4.8
105 63 -4.6
105 62 -4.4
105 61 -5
105 60 -6.6
106 67 -6.2
106 66 -5.6
106 65 -5
106 64 -4.6
106 63 -4.6
106 62 -4.4
106 61 -5.4
106 60 -5.8
107 68 -6.4
107 67 -5.8
107 66 -5.2
107 65 -4.8
107 64 -4.6
107 63 -4.5
107 62 -4.5
107 61 -6.6
108 68 -6
108 67 -5.5
108 66 -5
108 65 -4.8
108 64 -4.5
108 63 -4.5
108 62 -5.6
109 69 -6.1
109 68 -5.6
109 67 -5.2
109 66 -4.9
109 65 -4.8
109 64 -4.7
109 63 -6.6
110 69 -5.8
110 68 -5.3
110 67 -5
110 66 -4.9
110 65 -4.8
110 64 -5.8
111 70 -6.1
111 69 -5.5
111 68 -5.2
111 67 -4.9
111 66 -4.9
111 65 -4.8
111 64 -6.5
112 70 -5.8
112 69 -5.4
112 68 -5.1
112 67 -5
112 66 -5
112 65 -5.1
112 64 -5.5
113 69 -5.4
113 68 -5.3
113 67 -5.2
113 66 -5.4
113 65 -6.5
116 71 -5.8
116 70 -5.7
116 69 -5.4
116 68 -5.8
117 72 -6.5
117 71 -6.2
117 70 -5.4
117 69 -5.2
117 68 -5.6
118 72 -6
118 71 -5.4
118 70 -4.9
118 69 -5
118 68 -5.3
119 72 -5.6
119 71 -4.8
119 70 -4.8
119 69 -5
119 68 -5.6
120 74 -6.3
120 73 -6
120 72 -5.4
120 71 -4.6
120 70 -4.6
120 69 -5
120 68 -5.3
121 74 -5.7
121 73 -5.2
121 72 -4.4
121 71 -4.3
121 70 -4.4
121 69 -4.9
121 68 -5.4
122 74 -5.5
122 73 -5
122 72 -4.1
122 71 -4.1
122 70 -4.3
122 69 -4.7
122 68 -5.5
123 74 -5.3
123 73 -5
123 72 -4.2
123 71 -4
123 70 -4
123 69 -4.6
123 68 -6.2
124 74 -5.2
124 73 -4.9
124 72 -4.2
124 71 -3.8
124 70 -3.9
124 69 -4.3
124 68 -5
125 75 -5.6
125 74 -5.4
125 73 -4.8
125 72 -4.3
125 71 -4
125 70 -4.1
125 69 -4.4
125 68 -5.5
126 78 -5.8
126 77 -5.6
126 76 -5.4
126 75 -5
126 74 -4.6
126 73 -4.5
126 72 -4.4
126 71 -4.2
126 70 -4.2
126 69 -5
126 68 -5.6
127 77 -5.3
127 76 -5.2
127 75 -6.2
127 74 -6.4
}\cellF
\pgfplotstableread{
100 66 -6.6
98 64 -6.6
96 63 -6.6
96 62 -6.5
103 58 -6.6
104 58 -6.5
104 57 -6.6
105 58 -6.6
106 58 -6.6
108 60 -6.5
109 61 -6.6
110 62 -6.5
111 62 -6.5
112 62 -6.6
112 63 -6.4
113 63 -6.5
114 64 -6.6
95 54 -6.6
96 54 -6.5
96 53 -6.6
97 53 -6.6
98 52 -6.6
105 53 -6.6
106 53 -6.6
107 53 -6.6
108 53 -6.6
109 53 -6.6
110 54 -6.6
116 66 -6.5
117 66 -6.6
118 66 -6.4
119 66 -6.5
120 66 -6.4
121 66 -6.5
122 66 -6.5
123 66 -6.6
124 66 -6.5
125 66 -6.4
125 67 -6.3
126 67 -6.2
127 73 -6.4
127 72 -6.3
127 71 -6.4
127 70 -6.3
127 69 -6.4
122 75 -6.4
123 75 -6.3
124 75 -6.1
125 76 -6.2
125 77 -6.3
118 77 -6.6
119 78 -6.6
120 78 -6.6
121 78 -6.6
}\cellH
\pgfplotstableread{
113 70 -6
114 69 -5.9
114 68 -5.6
114 67 -5.6
114 66 -5.7
114 65 -6.2
115 71 -6.2
115 70 -5.9
115 69 -5.6
115 68 -5.9
116 67 -6.1
117 67 -6.2
118 73 -6.4
118 67 -6
119 73 -6.4
127 79 -5.9
127 78 -5.6
128 79 -5.9
128 78 -5.6
128 77 -5.6
128 76 -6
129 79 -6
129 78 -5.7
129 77 -5.7
129 76 -5.9
130 81 -6
130 80 -5.9
130 79 -5.8
130 78 -5.8
130 77 -5.9
130 76 -5.9
130 75 -5.9
131 81 -5.9
131 80 -5.8
131 79 -5.7
131 78 -6.2
132 81 -5.9
132 80 -5.8
132 79 -5.7
132 78 -5.9
132 77 -6.2
133 81 -6
133 80 -5.9
133 79 -6.1
134 80 -6.1
134 79 -6.2
135 82 -6.3
135 81 -6.1
136 82 -6.1
136 81 -6
137 82 -6
137 81 -5.9
138 82 -6.2
138 81 -5.7
138 80 -5.7
139 81 -6.2
140 81 -5.9
140 80 -6
91 64 -6.4
92 64 -6.5
93 64 -6.3
92 63 -6.2
94 63 -6.3
93 62 -6.3
94 62 -6.2
95 62 -6.3
114 76 -6.4
115 76 -6.3
116 76 -6.1
116 75 -6.4
}\cellG
\pgfplotstableread{
-7 .5
-6.9 .5
-6.8 .5
-6.7 .5
-6.6 .5
-6.5 .5
-6.4 .5
-6.3 .5
-6.2 .5
-6.1 .5
-6 .5
-5.9 .5
-5.8 .5
-5.7 .5
-5.6 .5
-5.5 .5
-5.4 .5
-5.3 .5
-5.2 .5
-5.1 .5
-5 .5
-4.9 .5
-4.8 .5
-4.7 .5
-4.6 .5
-4.5 .5
-4.4 .5
-4.3 .5
-4.2 .5
-4.1 .5
-4 .5
-3.9 .5
-3.8 .5
-3.7 .5
-3.6 .5
-3.5 .5
-3.4 .5
-3.3 .5
-3.2 .5
-3.1 .5
-3 .5
}\cbtab
\newcommand\cells[1]{\addplot[clip marker paths=true,scatter,only marks,scatter src=explicit,mark=square*,mark size=2.26pt,mark options={line width=0pt}] table[x index=0,y index=1,meta index=2]{#1};}
\newcommand\cellsS[1]{\addplot[clip marker paths=true,scatter,only marks,scatter src=explicit,colormap name=nucs,mark=square*,mark size=2.26pt,mark options={line width=0pt}] table[x index=0,y index=1,meta index=2]{#1};}
\newcommand\dotset[2]{\addplot[only marks,mark=*,mark size=.36pt,white,mark options={line width=0pt}] table[x index=0,y index=1]{#1};\addplot[only marks,mark=*,mark size=1pt,white,mark options={line width=0pt}] table[x index=0,y index=1]{#2};}
\newcommand\lineset[1]{\addplot[cont] table[x index=0,y index=1]{#1};}
\newcommand\ptext[6]{%
\node[ptx] at (rel axis cs:.46,.968) {\vv{t}~~=~~#1~~s};
\node[ptx] at (rel axis cs:.46,.928) {\vv{T}~~=~~#2~~K};
\node[ptx] at (rel axis cs:.46,.888) {\vv{N}\textsubscript{\vv{n}}~~=~~#3~~cm\textsuperscript{−3}};
\node[ptx] at (rel axis cs:.46,.848) {\vv{Y}\textsubscript{\vv{n}}/\vv{Y}\textsubscript{\vv{h}}~~=~~#4};
\node[ptx] at (rel axis cs:.46,.808) {\vv{τ}\textsubscript{\vv{β}}/\vv{τ}\textsubscript{\vv{n}}~~=~~#5};
\node[ptx,text=red] at (rel axis cs:.46,.768) {\vv{S}\rlap{\textsuperscript{0}}\textsubscript{\vv{α}}~~=~~~#6~~(MeV)};}
\newcommand\annL{%
\addplot[color=white!85!gray,line width=.9pt,no markers] coordinates {(82,35)(82,62)};
\addplot[color=lin,line width=.5pt,no markers] coordinates {(74,56)(90,40)};
\addplot[only marks,mark=diamond,mark size=1.5pt,lin,mark options={line width=.35pt}] coordinates {(93,48)};
\node[lab,font=\fontsize{6.2}{7}\selectfont\serifrm\itshape] at (axis cs:82.4,33.4) {N~~=~~82};
\node[lab,rotate=-45] at (axis cs:92.5,37.3) {\vv{A}~~=~~130};}
\newcommand\annR{%
\addplot[color=white,line width=.6pt,no markers] coordinates {(126,55)(126,83)};
\addplot[color=lin,line width=.5pt,no markers] coordinates {(115,80)(133,62)};
\addplot[only marks,mark=diamond,mark size=1.2pt,lin,mark options={line width=.35pt}] coordinates {(93,48)(137,67)(137,64)};
\node[lab,font=\fontsize{6.2}{7}\selectfont\serifrm\itshape] at (axis cs:126.8,53.4) {N~~=~~126};
\node[lab,rotate=-45] at (axis cs:135.8,59.1) {\vv{A}~~=~~195};}
\newcommand\inset[6]{%
\begin{axis}[at={(#1+18.35pt,#2+149.9pt)},anchor=south west,scale only axis,width=77.65pt,height=68.35pt,xmin=#3,xmax=#4,ymin=-7,ymax=-3,xtick={#5},ytick={-7,-6,-5,-4,-3},yticklabels={−7,−6,−5,−4,−3},
 axis line style={white,line width=.5pt},tick style={white,line width=.4pt},tick align=outside,minor y tick num=4,major tick length=2.2pt,minor tick length=1.2pt,
 minor xtick={#3,...,#4},/pgf/number format/assume math mode=true,/pgf/number format/1000 sep={},
 tick label style={font=\fontsize{6}{7}\selectfont,text=white},xticklabel style={yshift=-.5pt},yticklabel style={rotate=90,anchor=south,xshift=-.5pt},
 xlabel={\vv{A} \arr},ylabel={log~\vv{Y}},
 xlabel style={at={(axis description cs:.5,-.234)},anchor=center,font=\fontsize{6.2}{7}\selectfont,text=white,inner sep=0pt},
 ylabel style={at={(axis description cs:-.18,.5)},anchor=center,font=\fontsize{6.2}{7}\selectfont,text=white,inner sep=0pt}]
\addplot[color=lin,line width=.5pt,no markers] coordinates {#6};
\end{axis}}
\newcommand\cbar[2]{%
\begin{axis}[at={(#1+111.5pt,#2+15.9pt)},anchor=south west,scale only axis,width=106pt,height=12.15pt,xmin=-7,xmax=-3,ymin=0,ymax=1,xtick={-7,-6,-5,-4,-3},xticklabels={−7,−6,−5,−4,−3},ytick=\empty,
 point meta min=-7,point meta max=-3,axis on top,axis line style={white,line width=.6pt},tick style={white,line width=.3pt},tick align=inside,minor x tick num=4,major tick length=1.6pt,minor tick length=1pt,
 tick label style={font=\fontsize{6}{7}\selectfont,text=white},xticklabel style={yshift=-.5pt},
 xlabel={log~\vv{Y}},xlabel style={at={(axis description cs:1,-.905)},anchor=east,font=\fontsize{6.2}{7}\selectfont,text=white,inner sep=0pt}]
\addplot[mesh,point meta=x,line width=12.15pt,line cap=butt,no markers] table[x index=0,y index=1]{\cbtab};
\end{axis}}
\begin{document}
\begin{tikzpicture}
\useasboundingbox (0,0) rectangle (567pt,808.5pt);
%% panel 1
\begin{axis}[mainL,at={(24.65pt,582.65pt)}]
\dotset{\smallL}{\bigL}
\end{axis}
\begin{axis}[ovL,at={(24.65pt,582.65pt)}]
\cells{\cellA}
\lineset{\contL}
\annL
\addplot[red1] coordinates {(50,26)(51,26.1)(52,28.1)(53,29.2)(54,29.5)(55,30.4)(56,31.1)(57,31.6)(58,32.2)(59,32.4)(60,32.9)(61,33.2)(62,33.9)(63,34.4)(64,34.6)(65,35)(66,35.6)(67,36)(68,36.5)(69,37.3)(70,37.4)(71,37.8)(72,38.5)(73,39.5)(74,39.1)(75,38.4)(76,38.6)(77,39)(78,39.5)(79,39.8)(80,40.6)(81,41.4)(82,41.8)(83,43.2)(83.5,45.5)(84,46.4)(85,47.5)(86,48.3)(87,48.8)(88,49.8)(89,50.3)(90,50.6)(91,51.2)(92,50.8)(93,50.8)(94,51.3)(95,51.6)(96,51.9)(97,51.7)(98,53.2)(99,52.7)(100,53.4)};
\addplot[only marks,mark=*,mark size=.5pt,red] coordinates {(91,48)};
\ptext{0.91}{1.92E+09}{2.39E+27}{1.04E+00}{3.11E+05}{2.7}
\end{axis}
\inset{24.65pt}{582.65pt}{120}{140}{120,125,...,140}{(120,-4.05)(121,-3.5)(122,-4.4)(123,-4.33)(124,-3.27)(125,-3.18)(126,-3)(127,-3)(128,-3.35)(129,-4.3)(130,-4.1)(131,-3.72)(132,-3.95)(133,-4.65)(134,-4.1)(135,-3.8)(136,-4.55)(137,-4.7)(138,-3.9)(139,-5.1)(140,-4.9)}
\cbar{24.65pt}{582.65pt}
%% panel 2
\begin{axis}[mainR,at={(335.5pt,582.65pt)}]
\dotset{\smallR}{\bigR}
\end{axis}
\begin{axis}[ovR,at={(335.5pt,582.65pt)}]
\cells{\cellB}
\lineset{\contR}
\annR
\addplot[only marks,mark=diamond,mark size=1.8pt,lin,mark options={line width=.35pt}] coordinates {(101,63)(103,63)(113,63)};
\addplot[red1] coordinates {(90,49.4)(91,50.2)(92,50.3)(93,50.3)(94,51)(95,51.4)(96,51.4)(97,51.3)(98,51.5)(99,52.2)(100,52.4)(101,53.2)(102,53.2)(103,53.8)(104,54.2)(105,54.5)(106,55.4)(107,55.5)(108,56.6)(109,57.5)(110,57.6)(111,57.5)(112,58.9)(113,59.5)(114,59.9)(115,60.2)(116,60.8)(117,60.2)(118,60.2)(119,61.2)(120,58.7)(121,59.7)(122,60)(123,60.9)(124,60.9)(125,62.2)(126,62.2)(127,64)(127.5,66)(128,69)(129,69.2)(130,70.3)(131,70.7)(132,71.4)(133,71.9)(134,72.5)(135,72.5)(136,73.1)(137,74.9)(137.3,73.5)(138,72.4)(139,71.6)(140,72.4)};
\addplot[only marks,mark=diamond*,mark size=1.9pt,mark options={draw=red,fill=green!70!cyan,line width=.35pt}] coordinates {(91,48)};
\addplot[only marks,mark=diamond*,mark size=2.6pt,mark options={draw=red,fill=blue!80!cyan,line width=.4pt}] coordinates {(137,71)};
\addplot[only marks,mark=diamond,mark size=1.6pt,mark options={draw=red,line width=.35pt}] coordinates {(115,63)(139,74)};
\addplot[only marks,mark=square*,mark size=.6pt,red] coordinates {(129,58.5)(112,57.6)(137,64)};
\ptext{1.34}{1.79E+09}{6.59E+27}{9.66E−01}{2.73E+06}{2.4}
\end{axis}
\inset{335.5pt}{582.65pt}{180}{200}{180,185,...,200}{(180,-5)(181,-5.8)(182,-5)(183,-4.35)(184,-4.8)(185,-4.15)(186,-3.75)(187,-5)(188,-4.15)(189,-3.7)(190,-3.3)(191,-3.45)(192,-3.22)(193,-3.5)(194,-3.65)(195,-4.55)(196,-4.75)(197,-4.55)(198,-4.4)(199,-5.1)(200,-4.75)}
\cbar{335.5pt}{582.65pt}
%% panel 3
\begin{axis}[mainL,at={(24.65pt,303.85pt)}]
\dotset{\smallL}{\bigL}
\end{axis}
\begin{axis}[ovL,at={(24.65pt,303.85pt)}]
\cells{\cellC}
\lineset{\contL}
\annL
\addplot[red1] coordinates {(50,28.6)(51,29.6)(52,31.3)(53,32.2)(54,32.6)(55,33.7)(56,34.2)(57,35.1)(58,35)(59,35.3)(60,36)(61,36.2)(62,36.6)(63,37.5)(64,37.7)(65,38.2)(66,38.8)(67,38.9)(68,39.9)(69,40.5)(70,41.2)(71,41.3)(72,41.6)(73,42.3)(74,42.4)(75,42.2)(76,42.6)(77,43)(78,43.2)(79,43.4)(80,44.1)(81,44.6)(82,45.4)(83,48.8)(84,51.7)(85,53.2)(86,53.3)(87,53.1)(88,54.2)(89,54.2)(90,54.5)(91,54.7)(92,54.6)(93,55)(94,55.4)(95,55.4)(96,55.9)(97,56.4)(98,57)(99,57.9)(100,58.4)};
\ptext{1.22}{1.37E+09}{8.52E+18}{9.36E−09}{9.89E−01}{4.2}
\end{axis}
\inset{24.65pt}{303.85pt}{120}{140}{120,125,...,140}{(120,-4.08)(121,-4.08)(122,-3.9)(123,-3.7)(124,-3.85)(125,-3.75)(126,-3.2)(127,-3.05)(128,-3.15)(129,-3.1)(130,-3)(131,-3.5)(132,-3.45)(133,-4.15)(134,-5.4)(135,-4.95)(136,-4.6)(137,-5.5)(138,-6.6)(139,-5.6)(140,-5.6)}
\cbar{24.65pt}{303.85pt}
%% panel 4
\begin{axis}[mainR,at={(335.5pt,303.85pt)}]
\dotset{\smallR}{\bigR}
\end{axis}
\begin{axis}[ovR,at={(335.5pt,303.85pt)}]
\cells{\cellD}
\lineset{\contR}
\annR
\addplot[only marks,mark=diamond,mark size=1.2pt,lin,mark options={line width=.35pt}] coordinates {(91,48)};
\addplot[only marks,mark=diamond*,mark size=2.3pt,mark options={draw=cyan!40,fill=blue!40!cyan,line width=.35pt}] coordinates {(101,63)};
\addplot[only marks,mark=diamond*,mark size=1.9pt,mark options={draw=red,fill=blue!70,line width=.35pt}] coordinates {(103,63)};
\addplot[only marks,mark=diamond*,mark size=2.2pt,mark options={draw=red,fill=green!60!cyan,line width=.35pt}] coordinates {(113,63)};
\addplot[red1] coordinates {(90,52.7)(91,53.7)(92,53.8)(93,54)(94,54.1)(95,54.1)(96,54.9)(97,55.5)(98,56.1)(99,56.3)(100,56.9)(101,57.3)(102,57.9)(103,59.3)(104,59.4)(105,59.6)(106,60.5)(107,61.5)(108,61.7)(109,61.7)(110,62.8)(111,63)(112,63.5)(113,64.2)(114,64.8)(115,65.8)(116,66.7)(117,66.9)(118,66.3)(119,66.3)(120,67.4)(121,66.5)(122,66.3)(123,66.8)(124,66.7)(125,67.7)(126,68.4)(127,72.8)(128,75.1)(129,75)(130,76.5)(131,76.6)(132,77.6)(133,77.9)(134,78.7)(135,78.9)(136,79.6)(137,81)(138,80.4)(139,80.5)(140,81.2)};
\ptext{1.83}{1.19E+09}{3.13E+18}{1.04E−09}{1.10E+00}{3.7}
\end{axis}
\inset{335.5pt}{303.85pt}{180}{200}{180,185,...,200}{(180,-4.4)(181,-4.9)(182,-5.4)(183,-5.6)(184,-5.55)(185,-5.2)(186,-5.02)(187,-5)(188,-4.35)(189,-4.32)(190,-3.85)(191,-3.7)(192,-3.5)(193,-3.45)(194,-3.2)(195,-3.5)(196,-3.45)(197,-3.95)(198,-4.05)(199,-4.55)(200,-4.5)}
\cbar{335.5pt}{303.85pt}
%% panel 5
\begin{axis}[mainL,at={(24.65pt,24.65pt)}]
\dotset{\smallL}{\bigL}
\end{axis}
\begin{axis}[ovL,at={(24.65pt,24.65pt)}]
\cells{\cellE}
\lineset{\contL}
\annL
\addplot[red1] coordinates {(50,27.5)(51,28.4)(52,30.2)(53,30.8)(54,31.4)(55,32.2)(56,32.7)(57,33.9)(58,33.6)(59,34.2)(60,34.6)(61,34.9)(62,35.5)(63,36.3)(64,36.4)(65,36.2)(66,37.4)(67,37.5)(68,38.2)(69,39.3)(70,39.8)(71,40.2)(72,40.5)(73,41.1)(74,41.3)(75,40.9)(76,41.2)(77,41.3)(78,41.9)(79,42.2)(80,42.7)(81,43.6)(82,44.2)(83,47)(84,49.7)(85,50.6)(86,50.8)(87,52)(88,52.4)(89,53.2)(90,52.5)(91,53.4)(92,53.7)(93,53.9)(94,53.9)(95,54)(96,54.6)(97,55.2)(98,55.7)(99,55.9)(100,56.5)};
\ptext{1.53}{1.06E+09}{8.69E+16}{1.92E−10}{1.06E−01}{3.6}
\end{axis}
\inset{24.65pt}{24.65pt}{120}{140}{120,125,...,140}{(120,-4.05)(121,-3.95)(122,-3.8)(123,-3.7)(124,-3.75)(125,-3.75)(126,-3.2)(127,-3.07)(128,-3.1)(129,-3.15)(130,-3)(131,-3.5)(132,-3.45)(133,-4.1)(134,-5.25)(135,-4.95)(136,-4.6)(137,-5.5)(138,-6.45)(139,-5.6)(140,-5.6)}
\cbar{24.65pt}{24.65pt}
%% panel 6
\begin{axis}[mainR,at={(335.5pt,24.65pt)}]
\cellsS{\cellH}
\cells{\cellG}
\dotset{\smallR}{\bigR}
\end{axis}
\begin{axis}[ovR,at={(335.5pt,24.65pt)}]
\cellsS{\cellF}
\lineset{\contR}
\annR
\addplot[only marks,mark=diamond,mark size=2pt,white,mark options={line width=.4pt}] coordinates {(101,63)(103,63)};
\addplot[only marks,mark=diamond,mark size=1.2pt,lin,mark options={line width=.35pt}] coordinates {(91,48)(113,63)};
\addplot[red1] coordinates {(90,50.7)(91,51.6)(92,50.9)(93,50.9)(94,51.7)(95,51.9)(96,52.1)(97,51.9)(97.5,53)(98,53.4)(99,52.9)(100,54.2)(101,54.6)(102,54.7)(103,55.5)(104,56.5)(105,56.7)(106,57.1)(107,56.8)(108,58.2)(109,58.5)(110,59.2)(111,59.6)(112,60.5)(113,61.4)(114,62)(114.3,63)(115,63.6)(116,62.8)(117,62.7)(118,62.4)(119,63.1)(120,63.1)(121,62.1)(122,61.6)(123,62.6)(124,63.1)(125,64)(126,63.9)(127,66.5)(127.5,68)(128,71)(129,71)(130,72.2)(131,72.5)(132,73.4)(133,74)(134,74.5)(135,74.5)(136,75.4)(137,77.3)(138,76.6)(138.7,76.6)(139,75)(140,75)};
\addplot[only marks,mark=triangle,mark size=2pt,mark options={draw=red,line width=.4pt}] coordinates {(139,72)};
\addplot[only marks,mark=*,mark size=.6pt,red] coordinates {(137,71)};
\ptext{2.44}{7.85E+08}{1.03E+16}{7.51E−12}{1.10E−01}{2.8}
\end{axis}
\inset{335.5pt}{24.65pt}{180}{200}{180,185,...,200}{(180,-4.45)(181,-4.75)(182,-5.1)(183,-5.6)(184,-5.4)(185,-5.3)(186,-4.9)(187,-4.8)(188,-4.25)(189,-4.28)(190,-3.85)(191,-3.65)(192,-3.5)(193,-3.45)(194,-3.3)(195,-3.45)(196,-3.5)(197,-3.95)(198,-4.05)(199,-4.5)(200,-4.45)}
\cbar{335.5pt}{24.65pt}
\end{tikzpicture}
\end{document}
